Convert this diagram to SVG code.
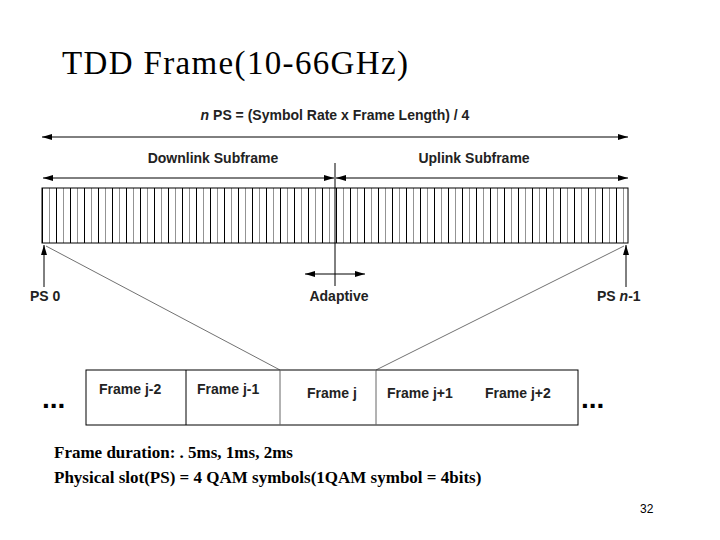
<svg xmlns="http://www.w3.org/2000/svg" width="720" height="540" viewBox="0 0 720 540">
<defs>
<marker id="ah" viewBox="0 0 10 6" refX="10" refY="3" markerWidth="12" markerHeight="6" orient="auto-start-reverse" markerUnits="userSpaceOnUse"><path d="M0,0L10,3L0,6z" fill="#000"/></marker>
<pattern id="slots" x="42" y="0" width="14" height="10" patternUnits="userSpaceOnUse">
<line x1="0.5" y1="0" x2="0.5" y2="10" stroke="#000" stroke-width="1"/>
<line x1="7.5" y1="0" x2="7.5" y2="10" stroke="#777" stroke-width="0.8"/>
</pattern>
</defs>
<style>
.s{font-family:"Liberation Sans",Arial,sans-serif;font-weight:bold;font-size:14px;fill:#222}
.f{font-family:"Liberation Sans",Arial,sans-serif;font-weight:bold;font-size:14px;fill:#222}
.b{font-family:"Liberation Serif","Times New Roman",serif;font-weight:bold;font-size:17px}
.ln{stroke:#000;stroke-width:1;fill:none}
</style>
<rect width="720" height="540" fill="#fff"/>
<text x="62" y="74" font-family="Liberation Serif,serif" font-size="33" textLength="346" lengthAdjust="spacing">TDD Frame(10-66GHz)</text>
<g id="bar">
<rect x="42" y="188" width="586" height="55" fill="url(#slots)" stroke="#000"/>
</g>
<g id="labels">
<text class="s" x="335" y="120" text-anchor="middle"><tspan font-style="italic">n</tspan> PS = (Symbol Rate x Frame Length) / 4</text>
<text class="s" x="213" y="163" text-anchor="middle">Downlink Subframe</text>
<text class="s" x="474" y="163" text-anchor="middle">Uplink Subframe</text>
<text class="s" x="30" y="301">PS 0</text>
<text class="s" x="339" y="301" text-anchor="middle">Adaptive</text>
<text class="s" x="597" y="301">PS <tspan font-style="italic">n</tspan>-1</text>
</g>
<g id="frames">
<rect x="86" y="370" width="492" height="55" fill="#fff" stroke="#000"/>
<line class="ln" x1="186" y1="370" x2="186" y2="425"/>
<line x1="280" y1="370" x2="280" y2="425" stroke="#666"/>
<line x1="376" y1="370" x2="376" y2="425" stroke="#666"/>
<text class="f" x="99" y="394">Frame j-2</text>
<text class="f" x="197" y="394">Frame j-1</text>
<text class="f" x="307" y="398">Frame j</text>
<text class="f" x="387" y="398">Frame j+1</text>
<text class="f" x="485" y="398">Frame j+2</text>
<text x="42" y="408" font-family="Liberation Sans,sans-serif" font-weight="bold" font-size="28">...</text>
<text x="581" y="408" font-family="Liberation Sans,sans-serif" font-weight="bold" font-size="28">...</text>
</g>
<g id="connectors">
<line class="ln" x1="42" y1="137" x2="628" y2="137" marker-start="url(#ah)" marker-end="url(#ah)"/>
<line class="ln" x1="43" y1="178" x2="334" y2="178" marker-start="url(#ah)" marker-end="url(#ah)"/>
<line class="ln" x1="336" y1="178" x2="628" y2="178" marker-start="url(#ah)" marker-end="url(#ah)"/>
<line class="ln" x1="335" y1="163" x2="335" y2="286"/>
<line class="ln" x1="305" y1="274" x2="365" y2="274" marker-start="url(#ah)" marker-end="url(#ah)"/>
<line class="ln" x1="44" y1="287" x2="44" y2="245" marker-end="url(#ah)"/>
<line class="ln" x1="626" y1="287" x2="626" y2="245" marker-end="url(#ah)"/>
<line x1="46" y1="246" x2="280" y2="370" stroke="#333" stroke-width="0.7"/>
<line x1="624" y1="246" x2="376" y2="370" stroke="#333" stroke-width="0.7"/>
</g>
<text class="b" x="54" y="458">Frame duration: . 5ms, 1ms, 2ms</text>
<text class="b" x="54" y="483">Physical slot(PS) = 4 QAM symbols(1QAM symbol = 4bits)</text>
<text x="640" y="513" font-family="Liberation Sans,sans-serif" font-size="12">32</text>
</svg>
